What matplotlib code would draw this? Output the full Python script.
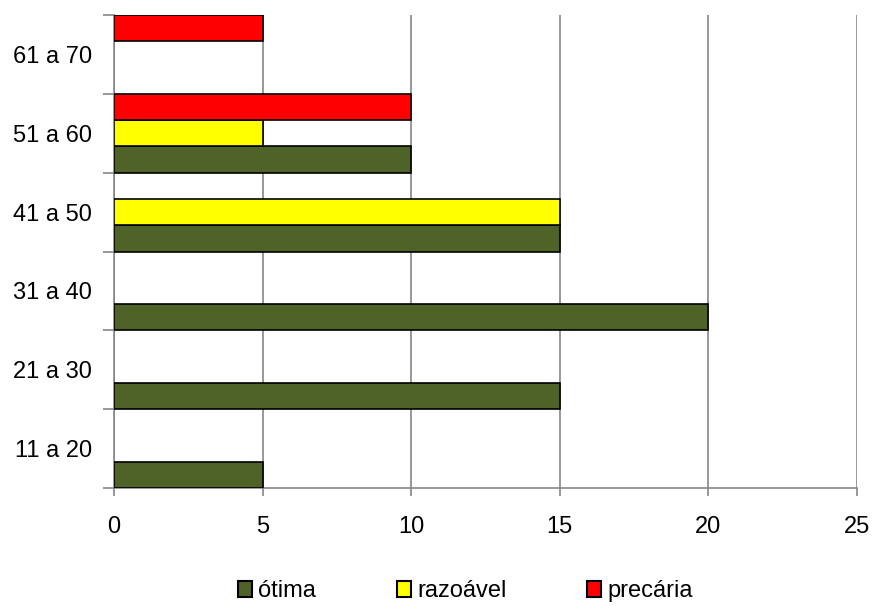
import numpy as np
import matplotlib.pyplot as plt
from matplotlib.patches import Patch

plt.rcParams['font.family'] = ['Liberation Sans', 'DejaVu Sans']

categorias = ["11 a 20", "21 a 30", "31 a 40", "41 a 50", "51 a 60", "61 a 70"]
otima = [5, 15, 20, 15, 10, 0]
razoavel = [0, 0, 0, 15, 5, 0]
precaria = [0, 0, 0, 0, 10, 5]

series = [("ótima", otima, "#4F6228"), ("razoável", razoavel, "#FFFF00"), ("precária", precaria, "#FF0000")]

fig = plt.figure(figsize=(8.73, 6.06), dpi=100)
ax = fig.add_axes([0.1306, 0.1947, 0.8511, 0.7805])

h = 1/3
y = np.arange(len(categorias))
for k, (nome, vals, cor) in enumerate(series):
    off = (k - 1) * h
    for yi, v in zip(y, vals):
        if v > 0:
            ax.barh(yi + off, v, height=h, color=cor, edgecolor="black", linewidth=1.2, zorder=3)

ax.set_xlim(0, 25)
ax.set_ylim(-0.5, len(categorias) - 0.5)
ax.set_xticks([0, 5, 10, 15, 20, 25])
ax.set_yticks(y)
ax.set_yticklabels(categorias)
ax.set_yticks(np.arange(-0.5, len(categorias)), minor=True)
ax.tick_params(axis="y", which="major", length=0, labelsize=17, pad=16)
ax.tick_params(axis="y", which="minor", length=8, color="#868686", width=1.2)
ax.tick_params(axis="x", length=6, color="#868686", width=1.2, labelsize=17, pad=14)
ax.grid(axis="x", color="#868686", linewidth=1.2, zorder=0)
for s in ["top", "right"]:
    ax.spines[s].set_visible(False)
for s in ["left", "bottom"]:
    ax.spines[s].set_color("#868686")
    ax.spines[s].set_linewidth(1.2)

handles = [Patch(facecolor=c, edgecolor="black", linewidth=1.5, label=n) for n, _, c in series]
fig.legend(handles=handles, loc="center", bbox_to_anchor=(0.533, 0.024), ncol=3, frameon=False,
           fontsize=17, handlelength=0.62, handleheight=0.62, handletextpad=0.25, columnspacing=3.4,
           borderpad=0)

fig.savefig("out.png", dpi=100)
